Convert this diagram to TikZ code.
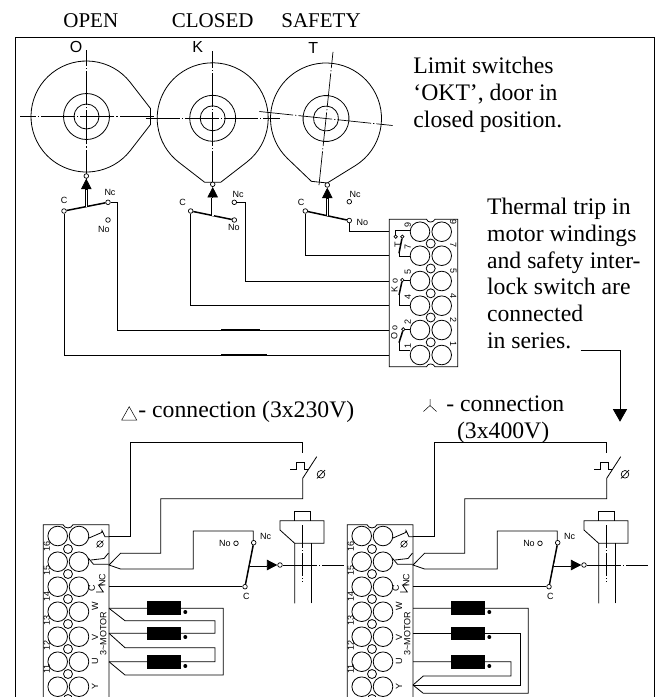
\documentclass[tikz,border=0pt]{standalone}
\usepackage{fontspec}
\setmainfont{Liberation Serif}
\setsansfont{Liberation Sans}
\usetikzlibrary{arrows.meta}
\tikzset{
  axisline/.style={line width=.7pt,dash pattern=on 34pt off 2pt on 1.2pt off 2pt},
  ttl/.style={inner sep=0pt,font=\fontsize{21}{26.7}\selectfont},
  txt/.style={inner sep=0pt,font=\fontsize{23.7}{26.7}\selectfont},
  lab/.style={inner sep=0pt,font=\sffamily\fontsize{9}{10}\selectfont},
  letter/.style={inner sep=0pt,font=\sffamily\fontsize{16}{17}\selectfont},
  term/.style={circle,draw,fill=white,inner sep=0pt,minimum size=4.6pt,line width=.7pt},
  blade/.style={line width=1.5pt},
  shaft/.style={line width=.7pt,double,double distance=1.6pt},
  wedge/.style={-{Triangle[length=10.5pt,width=10.5pt]}},
  cam/.pic={
    \draw (-52:55.5) arc (-52:232:55.5) -- (-8,-64) -- (8,-64) -- cycle;
    \draw (0,0) circle (23) (0,0) circle (12.5);
    \draw[axisline] (-67,0) -- (67,0);
    \draw[axisline] (0,-67) -- (0,67);
  }
}
\begin{document}
\begin{tikzpicture}[x=1pt,y=1pt,line width=.8pt]
  \useasboundingbox (0,0) rectangle (658,-697);

  % Frame
  \draw (15,-697) -- (15,-37.5) -- (654.5,-37.5) -- (654.5,-697);

  % Titles
  \node[ttl,anchor=base west] (open) at (63,-27.3) {OPEN};
  \node[ttl,anchor=base west] (closed) at (171.5,-27.3) {CLOSED};
  \node[ttl,anchor=base west] (safety) at (281,-27.3) {SAFETY};
  \node[txt,anchor=north west,align=left] (limit) at (413,-57.1) {Limit switches\\`OKT', door in\\closed position.};
  \node[txt,anchor=north west,align=left] (thermal) at (486.7,-197.8) {Thermal trip in\\motor windings\\and safety inter-\\lock switch are\\connected\\in series.};

  % Cams
  \pic[rotate=90] at (86.5,-116.5) {cam};
  \pic at (212.7,-118.3) {cam};
  \pic[rotate=-6] at (326,-118.5) {cam};
  \node[letter] (lo) at (76,-46.7) {O};
  \node[letter] (lk) at (197.7,-46.7) {K};
  \node[letter] (lt) at (313.3,-48) {T};

  % Switch O
  \node[term] (oc) at (64,-211) {};
  \node[term] (onc) at (108,-202.3) {};
  \node[term] (ono) at (108,-220) {};
  \draw[blade] (oc) -- (onc);
  \node[term] (opin) at (86.3,-176) {};
  \coordinate (ob) at (86.3,-206.6);
  \coordinate (oh) at (86.3,-189);
  \draw[shaft] (ob) -- (oh);
  \draw[wedge] (oh) -- (opin);
  \node[lab] (loc) at (64,-200.5) {C};
  \node[lab] (lonc) at (110,-192.7) {Nc};
  \node[lab] (lono) at (104,-229) {No};

  % Switch K
  \node[term] (kc) at (190.7,-211) {};
  \node[term] (knc) at (234.3,-202.3) {};
  \node[term] (kno) at (234.3,-220) {};
  \draw[blade] (kc) -- (kno);
  \node[term] (kpin) at (212.7,-184.3) {};
  \coordinate (kb) at (212.7,-215.5);
  \coordinate (kh) at (212.7,-197.5);
  \draw[shaft] (kb) -- (kh);
  \draw[wedge] (kh) -- (kpin);
  \node[lab] (lkc) at (182.7,-202.3) {C};
  \node[lab] (lknc) at (238,-194) {Nc};
  \node[lab] (lkno) at (234,-227.5) {No};

  % Switch T
  \node[term] (tc) at (305.3,-211) {};
  \node[term] (tnc) at (349.3,-201.7) {};
  \node[term] (tno) at (349.3,-220.5) {};
  \draw[blade] (tc) -- (tno);
  \node[term] (tpin) at (327.3,-185) {};
  \coordinate (tb) at (327.3,-215.8);
  \coordinate (th) at (327.3,-198);
  \draw[shaft] (tb) -- (th);
  \draw[wedge] (th) -- (tpin);
  \node[lab] (ltc) at (301,-202.7) {C};
  \node[lab] (ltnc) at (355,-194.3) {Nc};
  \node[lab] (ltno) at (362.3,-222) {No};

  % Terminal block, upper
  \draw (389.3,-219.3) -- (426.5,-219.3) .. controls (428,-223) and (433,-223) .. (435,-219.3)
    -- (457.7,-219.3) -- (457.7,-366.7) -- (435,-366.7) .. controls (433,-363) and (428,-363) .. (426.5,-366.7)
    -- (389.3,-366.7) -- cycle;
  \foreach \yy in {231.7,255.7,281,305.7,330,355}{
    \draw (420,-\yy) circle (9.8);
    \draw (441.7,-\yy) circle (9.8);
  }
  \foreach \yy in {243.5,268.5,293.3,317.5,342.3}
    \draw (430.7,-\yy) circle (4.5);
  \foreach \n/\yl/\yr in {9/225/221.7,7/247.3/245,5/272.3/271,4/297.3/296,2/321.7/320,1/346/344.3}{
    \node[lab,rotate=90] (bl\n) at (407.7,-\yl) {\n};
    \node[lab,rotate=-90] (br\n) at (453.3,-\yr) {\n};
  }
  \coordinate (b9) at (389.3,-231.7);
  \coordinate (b7) at (389.3,-255.7);
  \coordinate (b5) at (389.3,-281);
  \coordinate (b4) at (389.3,-305.7);
  \coordinate (b2) at (389.3,-330);
  \coordinate (b1) at (389.3,-355);

  % Wires from the switches
  \draw (oc) |- (b1);
  \draw (onc) -- (117.7,-202.3) |- (b2);
  \draw (kc) |- (b4);
  \draw (knc) -- (245.7,-202.3) |- (b5);
  \draw (tc) |- (b7);
  \draw (tno) |- (b9);
  % Heavy parts of the wires
  \draw[line width=1.5pt] (221,-330) -- (260,-330);
  \draw[line width=1.5pt] (221,-355) -- (266.7,-355);

  % Small switches in the block
  \node[term,minimum size=3.4pt] (sa) at (395.7,-236.7) {};
  \node[term,minimum size=3.4pt] (sb) at (402.3,-236.7) {};
  \coordinate (sa1) at (399,-253.3);
  \draw (sa) |- (410,-230.7);
  \draw[blade] (sb) -- (sa1);
  \draw (sa1) |- (410,-256.7);
  \node[lab,rotate=90] (st) at (397.7,-245) {T};
  \node[term,minimum size=3.4pt] (sc) at (402.3,-280) {};
  \coordinate (sc1) at (399,-295);
  \draw (sc) -- (410,-280);
  \draw[blade] (sc) -- (sc1);
  \draw (sc1) |- (410,-305);
  \node[lab,rotate=90] (sk) at (394.5,-285.7) {K o};
  \node[term,minimum size=3.4pt] (sd) at (403.3,-329.3) {};
  \coordinate (sd1) at (399,-342.7);
  \draw (sd) -- (410,-329.3);
  \draw[blade] (sd) -- (sd1);
  \draw (sd1) |- (410,-350);
  \node[lab,rotate=90] (so) at (394.3,-332.7) {O o};

  % Arrow to the thermal trip
  \coordinate (ser) at (580.7,-350);
  \coordinate (trip) at (620,-421.7);
  \draw[-{Triangle[length=12.5pt,width=14pt]}] (ser) -| (trip);

  % Connection titles
  \draw[line width=.5pt] (121.7,-420) -- (136.7,-420) -- (129.2,-406.7) -- cycle;
  \node[txt,anchor=base west] (delta) at (138,-417.7) {- connection (3x230V)};
  \draw[line width=.5pt] (430,-405.5) -- (430,-399) (430,-405.5) -- (423.5,-411.5) (430,-405.5) -- (436.5,-411.5);
  \node[txt,anchor=base west] (star) at (446,-411.7) {- connection};
  \node[txt,anchor=base west] (star2) at (456.7,-438) {(3x400V)};

  % Both motor circuits
  \foreach \side/\dx in {L/0,R/304}{
    \begin{scope}[xshift=\dx pt]
      % Block
      \draw (43.3,-697) -- (43.3,-524.7) -- (63,-524.7) .. controls (65,-529) and (71,-529) .. (73,-524.7)
        -- (109,-524.7) -- (109,-697);
      \foreach \yy in {536,561.7,586.7,611.7,636.7,661.7,686.7}{
        \draw (57.7,-\yy) circle (9.8);
        \draw (79,-\yy) circle (9.8);
      }
      \foreach \yy in {549,574,599,624,649,674,699}
        \draw (68,-\yy) circle (4.5);
      \foreach \n/\yy in {16/546.7,15/570,14/596,13/620,12/645,11/669}
        \node[lab,rotate=90] (\side n\n) at (46.7,-\yy) {\n};
      \node[lab,rotate=90] (\side lw) at (95,-606.5) {W};
      \node[lab,rotate=90] (\side lv) at (95,-637) {V};
      \node[lab,rotate=90] (\side lu) at (95,-661.3) {U};
      \node[lab,rotate=90] (\side ly) at (95,-686) {Y};
      \node[lab,rotate=90] (\side lc) at (91.7,-588.3) {C};
      \node[lab,rotate=90] (\side lnc) at (102.3,-580) {NC};
      \node[lab,rotate=90] (\side lm) at (103.3,-633.7) {3\textasciitilde MOTOR};
      \draw[line width=.6pt] (100,-544) circle (3.2);
      \draw[line width=.6pt] (96.5,-547.5) -- (103.5,-540.5);
      % Links inside the block
      \coordinate (\side t) at (109,-536.7);
      \coordinate (\side f) at (109,-565);
      \coordinate (\side g) at (109,-586.7);
      \coordinate (\side w) at (109,-608.3);
      \coordinate (\side v) at (109,-633.3);
      \coordinate (\side u) at (109,-661.7);
      \coordinate (\side y) at (109,-685);
      \draw (88.3,-538.3) -- (101.7,-532.5) -- (102,-530.5) -- (105,-536.7) -- (\side t);
      \draw (88.3,-558) -- (93.5,-564.3) -- (108.5,-564.3);
      \draw (91,-560) -- (104,-558.5) -- (108.5,-553);
      \draw (96,-592) -- (103.3,-592) -- (98.5,-585) -- (103.3,-585);
      % Thermal trip
      \coordinate (\side p) at (302.7,-453);
      \coordinate (\side q) at (302.7,-478.3);
      \coordinate (\side r) at (316.7,-456.7);
      \draw (\side t) -- (130.7,-536.7) |- (302.7,-442.7) -- (\side p);
      \draw (\side r) -- (\side q) -- (302.7,-498.7) -| (160.7,-553.3) -- (120.5,-553.3) -- (\side f) -- (120.5,-569) -| (193.3,-531) -| (253.3,-541);
      \draw (290,-469.3) -- (296.7,-469.3) -- (296.7,-462.7) -- (304,-462.7) -- (304,-469.3) -- (308.5,-469.3);
      \draw[line width=.7pt] (321,-474.3) circle (3.8);
      \draw[line width=.7pt] (317,-478.5) -- (325,-470);
      % Door switch
      \node[term] (\side c) at (245,-586.7) {};
      \node[term] (\side nc) at (253.7,-542.7) {};
      \node[term] (\side no) at (236,-543.3) {};
      \draw[blade] (\side c) -- (\side nc);
      \draw (\side g) -- (\side c);
      \node[lab] (\side ln) at (225,-543.3) {No};
      \node[lab] (\side lk) at (265.7,-536.7) {Nc};
      \node[lab] (\side lo) at (246.3,-596.7) {C};
      % Plunger
      \draw[axisline] (283,-565) -- (344,-565);
      \node[term] (\side pin) at (280,-565) {};
      \coordinate (\side s) at (249.5,-565);
      \coordinate (\side h) at (266.5,-565);
      \draw[shaft] (\side s) -- (\side h);
      \draw[wedge] (\side h) -- (\side pin);
      \draw (294.7,-603.3) -- (294.7,-543.3) -- (280,-530) -- (280,-520.7) -- (324,-520.7) -- (324,-543.3) -- (294.7,-543.3);
      \draw (311,-603.3) -- (311,-543.3);
      \draw (294.7,-520.7) -- (294.7,-511.7) -- (310.7,-511.7) -- (310.7,-520.7);
      \draw[line width=.7pt,dash pattern=on 23pt off 2pt on 1.2pt off 2pt] (302.7,-525) -- (302.7,-581.7);
      % Windings
      \foreach \t/\b in {601/615,626.7/640,655.3/669}{
        \fill (147.3,-\t) rectangle (180.7,-\b);
        \fill (185.3,{-\b+3}) circle (2);
      }
    \end{scope}
  }

  % Delta wiring
  \draw (Lw) -- (223.3,-608.3) |- (125,-675) -- (Lu);
  \draw (Lw) -- (125,-620.7) -| (215,-633.3) -- (Lv);
  \draw (Lv) -- (125,-647.7) -| (215,-661.7) -- (Lu);

  % Star wiring
  \draw (Rw) -- (528.3,-608.3) |- (423.3,-693.3) -- (Ry);
  \draw (Rv) -- (520,-633.3) |- (Ry);
  \draw (Ru) -- (511,-661.7) |- (423.3,-676) -- (Ry);
\end{tikzpicture}
\end{document}
